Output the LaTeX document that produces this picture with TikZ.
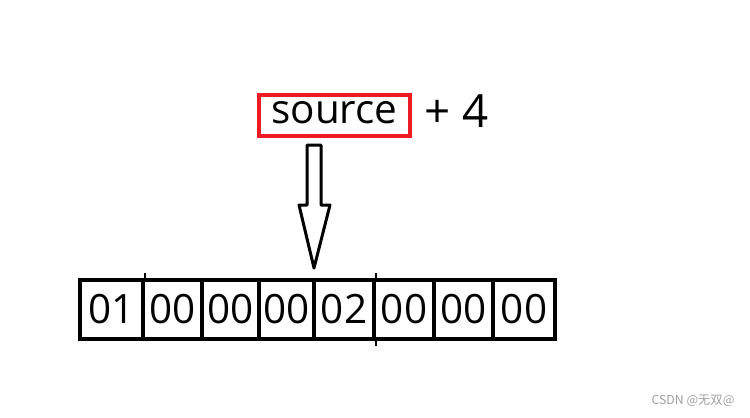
\documentclass[tikz,border=0pt]{standalone}
\usepackage{fontspec}
\setmainfont{Open Sans}
\newfontfamily\cjkfont{Noto Sans CJK SC}
\usetikzlibrary{positioning}
\definecolor{paintred}{RGB}{237,28,36}
\tikzset{
  bytecell/.style={draw,line width=0.08cm,inner sep=0pt,minimum height=59*0.02cm,
    font=\fontsize{23}{23}\selectfont},
  srcbox/.style={draw=paintred,line width=0.08cm,inner xsep=0.24cm,inner ysep=0pt,
    text height=0.56cm,text depth=0.26cm,font=\fontsize{23}{23}\selectfont},
  blockarrow/.style={draw,line width=0.06cm,line join=round}
}

\begin{document}
\begin{tikzpicture}[x=0.02cm,y=-0.02cm]
    \useasboundingbox (0,0) rectangle (750,417);
    % --- pointer expression ---
    \node[srcbox,anchor=base] (src) at (334.5,123) {source};
    \node[anchor=base,inner sep=0pt,font=\fontsize{26}{26}\selectfont] (offset) at (457,127) {+ 4};
    % --- hollow arrow ---
    \draw[blockarrow] (307,145) -- (321,145) -- (321,205) -- (330,205)
      -- (314,268) -- (299,205) -- (307,205) -- cycle;
    % --- bytes ---
    \foreach \l/\r/\t [count=\i] in {80/143/01,143/202/00,202/259/00,259/314/00,
        314/374/02,374/434/00,434/493/00,493/555/00}
      \node[bytecell,minimum width={(\r-\l)*0.02cm}] (b\i) at ({(\l+\r)/2},309.5) {\t};
    \draw[line width=0.04cm] (b1.north east) -- ++(0,-5);
    \draw[line width=0.04cm] (b5.north east) -- ++(0,-5);
    \draw[line width=0.04cm] (b5.south east) -- ++(0,5);
    % --- watermark ---
    \node[text=gray!75,font=\cjkfont\fontsize{7}{7}\selectfont] (mark) at (693,401) {CSDN @无双@};
\end{tikzpicture}
\end{document}
